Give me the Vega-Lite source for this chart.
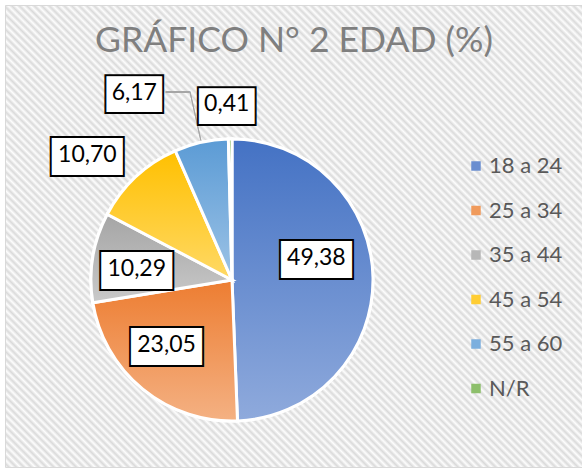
{
  "$schema": "https://vega.github.io/schema/vega-lite/v6.json",
  "width": 578,
  "height": 462,
  "autosize": {"type": "none"},
  "padding": {"left": 5, "top": 5, "right": 0, "bottom": 4},
  "background": "white",
  "view": {"stroke": "#d9d9d9", "strokeWidth": 1, "fill": {"gradient": "linear", "x1": 0, "y1": 1, "x2": 1.0979, "y2": 0.1224, "stops": [
{"offset":0.0000,"color":"#fdfdfd"},{"offset":0.0036,"color":"#dadada"},{"offset":0.0072,"color":"#fdfdfd"},{"offset":0.0108,"color":"#dadada"},{"offset":0.0144,"color":"#fdfdfd"},{"offset":0.0180,"color":"#dadada"},{"offset":0.0216,"color":"#fdfdfd"},{"offset":0.0252,"color":"#dadada"},{"offset":0.0288,"color":"#fdfdfd"},{"offset":0.0324,"color":"#dadada"},
{"offset":0.0360,"color":"#fdfdfd"},{"offset":0.0396,"color":"#dadada"},{"offset":0.0432,"color":"#fdfdfd"},{"offset":0.0468,"color":"#dadada"},{"offset":0.0504,"color":"#fdfdfd"},{"offset":0.0540,"color":"#dadada"},{"offset":0.0576,"color":"#fdfdfd"},{"offset":0.0612,"color":"#dadada"},{"offset":0.0648,"color":"#fdfdfd"},{"offset":0.0684,"color":"#dadada"},
{"offset":0.0720,"color":"#fdfdfd"},{"offset":0.0756,"color":"#dadada"},{"offset":0.0792,"color":"#fdfdfd"},{"offset":0.0828,"color":"#dadada"},{"offset":0.0864,"color":"#fdfdfd"},{"offset":0.0900,"color":"#dadada"},{"offset":0.0936,"color":"#fdfdfd"},{"offset":0.0972,"color":"#dadada"},{"offset":0.1008,"color":"#fdfdfd"},{"offset":0.1044,"color":"#dadada"},
{"offset":0.1080,"color":"#fdfdfd"},{"offset":0.1116,"color":"#dadada"},{"offset":0.1152,"color":"#fdfdfd"},{"offset":0.1188,"color":"#dadada"},{"offset":0.1224,"color":"#fdfdfd"},{"offset":0.1260,"color":"#dadada"},{"offset":0.1296,"color":"#fdfdfd"},{"offset":0.1332,"color":"#dadada"},{"offset":0.1368,"color":"#fdfdfd"},{"offset":0.1404,"color":"#dadada"},
{"offset":0.1440,"color":"#fdfdfd"},{"offset":0.1476,"color":"#dadada"},{"offset":0.1512,"color":"#fdfdfd"},{"offset":0.1548,"color":"#dadada"},{"offset":0.1584,"color":"#fdfdfd"},{"offset":0.1620,"color":"#dadada"},{"offset":0.1656,"color":"#fdfdfd"},{"offset":0.1692,"color":"#dadada"},{"offset":0.1728,"color":"#fdfdfd"},{"offset":0.1764,"color":"#dadada"},
{"offset":0.1800,"color":"#fdfdfd"},{"offset":0.1836,"color":"#dadada"},{"offset":0.1872,"color":"#fdfdfd"},{"offset":0.1908,"color":"#dadada"},{"offset":0.1944,"color":"#fdfdfd"},{"offset":0.1980,"color":"#dadada"},{"offset":0.2016,"color":"#fdfdfd"},{"offset":0.2052,"color":"#dadada"},{"offset":0.2088,"color":"#fdfdfd"},{"offset":0.2124,"color":"#dadada"},
{"offset":0.2160,"color":"#fdfdfd"},{"offset":0.2196,"color":"#dadada"},{"offset":0.2232,"color":"#fdfdfd"},{"offset":0.2268,"color":"#dadada"},{"offset":0.2304,"color":"#fdfdfd"},{"offset":0.2340,"color":"#dadada"},{"offset":0.2376,"color":"#fdfdfd"},{"offset":0.2412,"color":"#dadada"},{"offset":0.2448,"color":"#fdfdfd"},{"offset":0.2484,"color":"#dadada"},
{"offset":0.2520,"color":"#fdfdfd"},{"offset":0.2556,"color":"#dadada"},{"offset":0.2592,"color":"#fdfdfd"},{"offset":0.2628,"color":"#dadada"},{"offset":0.2664,"color":"#fdfdfd"},{"offset":0.2700,"color":"#dadada"},{"offset":0.2736,"color":"#fdfdfd"},{"offset":0.2772,"color":"#dadada"},{"offset":0.2808,"color":"#fdfdfd"},{"offset":0.2844,"color":"#dadada"},
{"offset":0.2880,"color":"#fdfdfd"},{"offset":0.2916,"color":"#dadada"},{"offset":0.2952,"color":"#fdfdfd"},{"offset":0.2988,"color":"#dadada"},{"offset":0.3024,"color":"#fdfdfd"},{"offset":0.3060,"color":"#dadada"},{"offset":0.3096,"color":"#fdfdfd"},{"offset":0.3132,"color":"#dadada"},{"offset":0.3168,"color":"#fdfdfd"},{"offset":0.3204,"color":"#dadada"},
{"offset":0.3240,"color":"#fdfdfd"},{"offset":0.3276,"color":"#dadada"},{"offset":0.3312,"color":"#fdfdfd"},{"offset":0.3348,"color":"#dadada"},{"offset":0.3384,"color":"#fdfdfd"},{"offset":0.3420,"color":"#dadada"},{"offset":0.3456,"color":"#fdfdfd"},{"offset":0.3492,"color":"#dadada"},{"offset":0.3528,"color":"#fdfdfd"},{"offset":0.3564,"color":"#dadada"},
{"offset":0.3600,"color":"#fdfdfd"},{"offset":0.3636,"color":"#dadada"},{"offset":0.3672,"color":"#fdfdfd"},{"offset":0.3708,"color":"#dadada"},{"offset":0.3744,"color":"#fdfdfd"},{"offset":0.3780,"color":"#dadada"},{"offset":0.3816,"color":"#fdfdfd"},{"offset":0.3852,"color":"#dadada"},{"offset":0.3888,"color":"#fdfdfd"},{"offset":0.3924,"color":"#dadada"},
{"offset":0.3960,"color":"#fdfdfd"},{"offset":0.3996,"color":"#dadada"},{"offset":0.4032,"color":"#fdfdfd"},{"offset":0.4068,"color":"#dadada"},{"offset":0.4104,"color":"#fdfdfd"},{"offset":0.4140,"color":"#dadada"},{"offset":0.4176,"color":"#fdfdfd"},{"offset":0.4212,"color":"#dadada"},{"offset":0.4248,"color":"#fdfdfd"},{"offset":0.4284,"color":"#dadada"},
{"offset":0.4320,"color":"#fdfdfd"},{"offset":0.4356,"color":"#dadada"},{"offset":0.4392,"color":"#fdfdfd"},{"offset":0.4428,"color":"#dadada"},{"offset":0.4464,"color":"#fdfdfd"},{"offset":0.4500,"color":"#dadada"},{"offset":0.4536,"color":"#fdfdfd"},{"offset":0.4572,"color":"#dadada"},{"offset":0.4608,"color":"#fdfdfd"},{"offset":0.4644,"color":"#dadada"},
{"offset":0.4680,"color":"#fdfdfd"},{"offset":0.4716,"color":"#dadada"},{"offset":0.4752,"color":"#fdfdfd"},{"offset":0.4788,"color":"#dadada"},{"offset":0.4824,"color":"#fdfdfd"},{"offset":0.4860,"color":"#dadada"},{"offset":0.4896,"color":"#fdfdfd"},{"offset":0.4932,"color":"#dadada"},{"offset":0.4968,"color":"#fdfdfd"},{"offset":0.5004,"color":"#dadada"},
{"offset":0.5040,"color":"#fdfdfd"},{"offset":0.5076,"color":"#dadada"},{"offset":0.5112,"color":"#fdfdfd"},{"offset":0.5148,"color":"#dadada"},{"offset":0.5184,"color":"#fdfdfd"},{"offset":0.5220,"color":"#dadada"},{"offset":0.5256,"color":"#fdfdfd"},{"offset":0.5292,"color":"#dadada"},{"offset":0.5328,"color":"#fdfdfd"},{"offset":0.5364,"color":"#dadada"},
{"offset":0.5400,"color":"#fdfdfd"},{"offset":0.5436,"color":"#dadada"},{"offset":0.5472,"color":"#fdfdfd"},{"offset":0.5508,"color":"#dadada"},{"offset":0.5544,"color":"#fdfdfd"},{"offset":0.5580,"color":"#dadada"},{"offset":0.5616,"color":"#fdfdfd"},{"offset":0.5652,"color":"#dadada"},{"offset":0.5688,"color":"#fdfdfd"},{"offset":0.5724,"color":"#dadada"},
{"offset":0.5760,"color":"#fdfdfd"},{"offset":0.5796,"color":"#dadada"},{"offset":0.5832,"color":"#fdfdfd"},{"offset":0.5868,"color":"#dadada"},{"offset":0.5904,"color":"#fdfdfd"},{"offset":0.5940,"color":"#dadada"},{"offset":0.5976,"color":"#fdfdfd"},{"offset":0.6012,"color":"#dadada"},{"offset":0.6048,"color":"#fdfdfd"},{"offset":0.6084,"color":"#dadada"},
{"offset":0.6120,"color":"#fdfdfd"},{"offset":0.6156,"color":"#dadada"},{"offset":0.6192,"color":"#fdfdfd"},{"offset":0.6228,"color":"#dadada"},{"offset":0.6264,"color":"#fdfdfd"},{"offset":0.6300,"color":"#dadada"},{"offset":0.6336,"color":"#fdfdfd"},{"offset":0.6372,"color":"#dadada"},{"offset":0.6408,"color":"#fdfdfd"},{"offset":0.6444,"color":"#dadada"},
{"offset":0.6480,"color":"#fdfdfd"},{"offset":0.6516,"color":"#dadada"},{"offset":0.6552,"color":"#fdfdfd"},{"offset":0.6588,"color":"#dadada"},{"offset":0.6624,"color":"#fdfdfd"},{"offset":0.6660,"color":"#dadada"},{"offset":0.6696,"color":"#fdfdfd"},{"offset":0.6732,"color":"#dadada"},{"offset":0.6768,"color":"#fdfdfd"},{"offset":0.6804,"color":"#dadada"},
{"offset":0.6840,"color":"#fdfdfd"},{"offset":0.6876,"color":"#dadada"},{"offset":0.6912,"color":"#fdfdfd"},{"offset":0.6948,"color":"#dadada"},{"offset":0.6984,"color":"#fdfdfd"},{"offset":0.7020,"color":"#dadada"},{"offset":0.7056,"color":"#fdfdfd"},{"offset":0.7092,"color":"#dadada"},{"offset":0.7128,"color":"#fdfdfd"},{"offset":0.7164,"color":"#dadada"},
{"offset":0.7200,"color":"#fdfdfd"},{"offset":0.7236,"color":"#dadada"},{"offset":0.7272,"color":"#fdfdfd"},{"offset":0.7308,"color":"#dadada"},{"offset":0.7344,"color":"#fdfdfd"},{"offset":0.7380,"color":"#dadada"},{"offset":0.7416,"color":"#fdfdfd"},{"offset":0.7452,"color":"#dadada"},{"offset":0.7488,"color":"#fdfdfd"},{"offset":0.7524,"color":"#dadada"},
{"offset":0.7560,"color":"#fdfdfd"},{"offset":0.7596,"color":"#dadada"},{"offset":0.7632,"color":"#fdfdfd"},{"offset":0.7668,"color":"#dadada"},{"offset":0.7704,"color":"#fdfdfd"},{"offset":0.7740,"color":"#dadada"},{"offset":0.7776,"color":"#fdfdfd"},{"offset":0.7812,"color":"#dadada"},{"offset":0.7848,"color":"#fdfdfd"},{"offset":0.7884,"color":"#dadada"},
{"offset":0.7920,"color":"#fdfdfd"},{"offset":0.7956,"color":"#dadada"},{"offset":0.7992,"color":"#fdfdfd"},{"offset":0.8028,"color":"#dadada"},{"offset":0.8064,"color":"#fdfdfd"},{"offset":0.8100,"color":"#dadada"},{"offset":0.8136,"color":"#fdfdfd"},{"offset":0.8172,"color":"#dadada"},{"offset":0.8208,"color":"#fdfdfd"},{"offset":0.8244,"color":"#dadada"},
{"offset":0.8280,"color":"#fdfdfd"},{"offset":0.8316,"color":"#dadada"},{"offset":0.8352,"color":"#fdfdfd"},{"offset":0.8388,"color":"#dadada"},{"offset":0.8424,"color":"#fdfdfd"},{"offset":0.8460,"color":"#dadada"},{"offset":0.8496,"color":"#fdfdfd"},{"offset":0.8532,"color":"#dadada"},{"offset":0.8568,"color":"#fdfdfd"},{"offset":0.8604,"color":"#dadada"},
{"offset":0.8640,"color":"#fdfdfd"},{"offset":0.8676,"color":"#dadada"},{"offset":0.8712,"color":"#fdfdfd"},{"offset":0.8748,"color":"#dadada"},{"offset":0.8784,"color":"#fdfdfd"},{"offset":0.8820,"color":"#dadada"},{"offset":0.8856,"color":"#fdfdfd"},{"offset":0.8892,"color":"#dadada"},{"offset":0.8928,"color":"#fdfdfd"},{"offset":0.8964,"color":"#dadada"},
{"offset":0.9000,"color":"#fdfdfd"},{"offset":0.9036,"color":"#dadada"},{"offset":0.9072,"color":"#fdfdfd"},{"offset":0.9108,"color":"#dadada"},{"offset":0.9144,"color":"#fdfdfd"},{"offset":0.9180,"color":"#dadada"},{"offset":0.9216,"color":"#fdfdfd"},{"offset":0.9252,"color":"#dadada"},{"offset":0.9288,"color":"#fdfdfd"},{"offset":0.9324,"color":"#dadada"},
{"offset":0.9360,"color":"#fdfdfd"},{"offset":0.9396,"color":"#dadada"},{"offset":0.9432,"color":"#fdfdfd"},{"offset":0.9468,"color":"#dadada"},{"offset":0.9504,"color":"#fdfdfd"},{"offset":0.9540,"color":"#dadada"},{"offset":0.9576,"color":"#fdfdfd"},{"offset":0.9612,"color":"#dadada"},{"offset":0.9648,"color":"#fdfdfd"},{"offset":0.9684,"color":"#dadada"},
{"offset":0.9720,"color":"#fdfdfd"},{"offset":0.9756,"color":"#dadada"},{"offset":0.9792,"color":"#fdfdfd"},{"offset":0.9828,"color":"#dadada"},{"offset":0.9864,"color":"#fdfdfd"},{"offset":0.9900,"color":"#dadada"},{"offset":0.9936,"color":"#fdfdfd"},{"offset":0.9972,"color":"#dadada"},{"offset":1,"color":"#fdfdfd"}
  ]}},
  "config": {
    "locale": {"number": {"decimal": ",", "thousands": ".", "grouping": [3], "currency": ["", ""]}}
  },
  "title": {
    "text": "GRÁFICO N° 2 EDAD (%)",
    "font": "Lato",
    "fontSize": 35.5,
    "fontWeight": "normal",
    "color": "#7f7f7f",
    "anchor": "middle",
    "offset": 0,
    "dy": 54
  },
  "data": {
    "values": [
      {"edad": "18 a 24", "pct": 49.38},
      {"edad": "25 a 34", "pct": 23.05},
      {"edad": "35 a 44", "pct": 10.29},
      {"edad": "45 a 54", "pct": 10.70},
      {"edad": "55 a 60", "pct": 6.17},
      {"edad": "N/R", "pct": 0.41}
    ]
  },
  "encoding": {
    "theta": {"field": "pct", "type": "quantitative", "stack": true},
    "order": {"field": "edad", "type": "nominal", "sort": "ascending"}
  },
  "layer": [
    {
      "mark": {"type": "arc", "outerRadius": 141, "stroke": "white", "strokeWidth": 3, "x": 227, "y": 275},
      "encoding": {
        "color": {
          "field": "edad",
          "type": "nominal",
          "scale": {
            "domain": ["18 a 24", "25 a 34", "35 a 44", "45 a 54", "55 a 60", "N/R"],
            "range": ["#6a8ed0", "#f09a5b", "#b7b7b7", "#ffcd33", "#7cafde", "#8dbf6b"]
          },
          "legend": {
            "orient": "none",
            "legendX": 460,
            "legendY": 150,
            "title": null,
            "padding": 0,
            "labelFont": "Lato",
            "labelFontSize": 22,
            "labelColor": "#595959",
            "symbolType": "square",
            "symbolSize": 90,
            "symbolStrokeWidth": 0,
            "symbolOpacity": 1,
            "rowPadding": 22.5,
            "labelOffset": 2
          }
        }
      }
    },
    {
      "mark": {"type": "arc", "outerRadius": 141, "stroke": "white", "strokeWidth": 3, "x": 227, "y": 275},
      "encoding": {
        "detail": {"field": "edad", "type": "nominal"},
        "color": {
          "condition": [
            {"test": "datum.edad === '18 a 24'", "value": {"gradient": "linear", "x1": 0, "y1": 0, "x2": 0, "y2": 1, "stops": [{"offset": 0, "color": "#4472c4"}, {"offset": 1, "color": "#8faadc"}]}},
            {"test": "datum.edad === '25 a 34'", "value": {"gradient": "linear", "x1": 0, "y1": 0, "x2": 0, "y2": 1, "stops": [{"offset": 0, "color": "#ed7d31"}, {"offset": 1, "color": "#f4b183"}]}},
            {"test": "datum.edad === '35 a 44'", "value": {"gradient": "linear", "x1": 0, "y1": 0, "x2": 0, "y2": 1, "stops": [{"offset": 0, "color": "#a5a5a5"}, {"offset": 1, "color": "#c9c9c9"}]}},
            {"test": "datum.edad === '45 a 54'", "value": {"gradient": "linear", "x1": 0, "y1": 0, "x2": 0, "y2": 1, "stops": [{"offset": 0, "color": "#ffc000"}, {"offset": 1, "color": "#ffd966"}]}},
            {"test": "datum.edad === '55 a 60'", "value": {"gradient": "linear", "x1": 0, "y1": 0, "x2": 0, "y2": 1, "stops": [{"offset": 0, "color": "#5b9bd5"}, {"offset": 1, "color": "#9dc3e6"}]}}
          ],
          "value": {"gradient": "linear", "x1": 0, "y1": 0, "x2": 0, "y2": 1, "stops": [{"offset": 0, "color": "#70ad47"}, {"offset": 1, "color": "#a9d18e"}]}
        }
      }
    },
    {
      "mark": {"type": "arc", "innerRadius": 143, "outerRadius": 193, "padAngle": 0.6, "fillOpacity": 0, "stroke": "#a6a6a6", "strokeWidth": 1, "x": 227, "y": 275},
      "encoding": {
        "detail": {"field": "edad", "type": "nominal"},
        "strokeOpacity": {"condition": {"test": "datum.edad === '55 a 60'", "value": 1}, "value": 0}
      }
    },
    {
      "mark": {"type": "text", "text": "—", "font": "DejaVu Sans", "fontSize": 27, "fill": "#a6a6a6", "align": "center", "baseline": "middle", "x": 227, "y": 275, "radius": 193, "dx": -12.3, "dy": -1},
      "encoding": {
        "detail": {"field": "edad", "type": "nominal"},
        "opacity": {"condition": {"test": "datum.edad === '55 a 60'", "value": 1}, "value": 0}
      }
    },
    {
      "mark": {
        "type": "text", "text": "—", "font": "DejaVu Sans", "fill": "black", "stroke": "black", "strokeJoin": "miter",
        "strokeWidth": 38, "align": "center", "baseline": "middle", "x": 227, "y": 275,
        "fontSize": {"expr": "datum.pct >= 10 ? 41 : 24"},
        "radius": {"expr": "[86,92,96,190,210,175][indexof(['18 a 24','25 a 34','35 a 44','45 a 54','55 a 60','N/R'], datum.edad)]"},
        "dx": {"expr": "[-1.6,-7.2,-0.5,-15.2,-52,-3][indexof(['18 a 24','25 a 34','35 a 44','45 a 54','55 a 60','N/R'], datum.edad)]"},
        "dy": {"expr": "[-19.3,-5.2,5.3,15.2,18.5,0.5][indexof(['18 a 24','25 a 34','35 a 44','45 a 54','55 a 60','N/R'], datum.edad)]"}
      },
      "encoding": {"detail": {"field": "edad", "type": "nominal"}}
    },
    {
      "mark": {
        "type": "text", "text": "—", "font": "DejaVu Sans", "fill": "white", "stroke": "white", "strokeJoin": "miter",
        "strokeWidth": 34, "align": "center", "baseline": "middle", "x": 227, "y": 275,
        "fontSize": {"expr": "datum.pct >= 10 ? 41 : 24"},
        "radius": {"expr": "[86,92,96,190,210,175][indexof(['18 a 24','25 a 34','35 a 44','45 a 54','55 a 60','N/R'], datum.edad)]"},
        "dx": {"expr": "[-1.6,-7.2,-0.5,-15.2,-52,-3][indexof(['18 a 24','25 a 34','35 a 44','45 a 54','55 a 60','N/R'], datum.edad)]"},
        "dy": {"expr": "[-19.3,-5.2,5.3,15.2,18.5,0.5][indexof(['18 a 24','25 a 34','35 a 44','45 a 54','55 a 60','N/R'], datum.edad)]"}
      },
      "encoding": {"detail": {"field": "edad", "type": "nominal"}}
    },
    {
      "mark": {
        "type": "text", "font": "Lato", "fontSize": 23, "fill": "black", "align": "center", "baseline": "middle", "x": 227, "y": 275,
        "radius": {"expr": "[86,92,96,190,210,175][indexof(['18 a 24','25 a 34','35 a 44','45 a 54','55 a 60','N/R'], datum.edad)]"},
        "dx": {"expr": "[-1.6,-7.2,-0.5,-15.2,-52,-3][indexof(['18 a 24','25 a 34','35 a 44','45 a 54','55 a 60','N/R'], datum.edad)]"},
        "dy": {"expr": "[-20.3,-6.7,4.3,14.2,17.5,-1][indexof(['18 a 24','25 a 34','35 a 44','45 a 54','55 a 60','N/R'], datum.edad)]"}
      },
      "encoding": {
        "detail": {"field": "edad", "type": "nominal"},
        "text": {"field": "pct", "type": "quantitative", "format": ".2f"}
      }
    }
  ]
}
